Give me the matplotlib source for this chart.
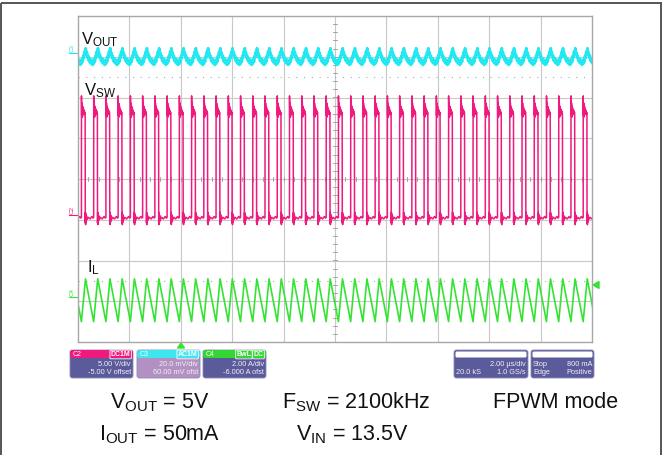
import numpy as np
import matplotlib
matplotlib.use("Agg")
import matplotlib.pyplot as plt
from matplotlib.patches import FancyBboxPatch, Rectangle, Polygon

plt.rcParams['font.family'] = ['Liberation Sans', 'DejaVu Sans']
plt.rcParams['mathtext.fontset'] = 'custom'
plt.rcParams['mathtext.rm'] = 'Liberation Sans'
plt.rcParams['mathtext.it'] = 'Liberation Sans'

# scope settings
n_periods = 42              # 2100 kHz over 20 us
fsw_mhz = 2.1
us_per_div = 2.0
first_edge = 0.28           # first rising edge, in periods from left

# one switching period (phase 0..1)
vsw_phase = [0.00, 0.004, 0.02, 0.05, 0.08, 0.11, 0.14, 0.17, 0.20, 0.23, 0.26, 0.29,
             0.305, 0.315, 0.33, 0.345, 0.36, 0.38, 0.41, 0.45, 0.55, 0.70, 0.85, 0.95]
vsw_volts = [0.3, 15.2, 12.8, 14.3, 12.6, 13.9, 12.9, 13.6, 13.0, 13.4, 12.9, 13.2,
             12.8, -0.4, 0.9, -0.6, 0.7, -0.3, 0.5, 0.0, 0.3, 0.1, 0.4, 0.2]

vout_phase = [0.00, 0.05, 0.10, 0.15, 0.20, 0.25, 0.30, 0.35, 0.40, 0.45,
              0.50, 0.55, 0.60, 0.65, 0.70, 0.75, 0.80, 0.85, 0.90, 0.95]
vout_mv = [-3.5, -1.0, -2.5, 0.5, -0.5, 2.5, 1.0, 4.2, 1.8, 2.0, -0.5, 0.5,
           -2.0, -0.8, -2.8, -1.2, -3.4, -1.8, -4.0, -2.4]

il_phase = [0.00, 0.33]
il_amps = [-1.0, 1.1]

# channel scales (per div) and offsets
vsw_scale, vsw_offset = 5.0, -5.0
vout_scale, vout_offset = 20.0, 60.0
il_scale, il_offset = 2.0, -6.0
trig_level = 0.8


def tile(phase, vals):
    t, y = [], []
    for k in range(-1, n_periods + 1):
        for p, v in zip(phase, vals):
            t.append((k + p + first_edge) / fsw_mhz / us_per_div)
            y.append(v)
    return np.array(t), np.array(y)


fig = plt.figure(figsize=(6.63, 4.55), dpi=100)

# overlay in pixel coordinates
ov = fig.add_axes([0, 0, 1, 1])
ov.set_xlim(0, 663)
ov.set_ylim(455, 0)
ov.axis('off')
ov.add_patch(Rectangle((1, 3), 660, 460, fill=False, ec='#555555', lw=1.4))

# scope screen
ax = fig.add_axes([78 / 663, 1 - 342 / 455, 514 / 663, 326 / 455])
ax.set_xlim(0, 10)
ax.set_ylim(-4, 4)
ax.set_xticks([])
ax.set_yticks([])
for s in ax.spines.values():
    s.set_color('#a8a8a8')
    s.set_linewidth(1.0)
for x in range(1, 10):
    ax.axvline(x, color='#c8c8c8', lw=0.8, zorder=0)
for y in range(-3, 4):
    ax.axhline(y, color='#c8c8c8', lw=0.8, zorder=0)
for v in np.arange(0.2, 10, 0.2):
    ax.plot([v, v], [-0.06, 0.06], color='#999999', lw=0.6, zorder=0)
for v in np.arange(-3.8, 4, 0.2):
    ax.plot([4.96, 5.04], [v, v], color='#999999', lw=0.6, zorder=0)
for y in (2.5, -2.5):
    ax.axhline(y, color='#aaaaaa', lw=0.8, ls=(0, (1, 6)), zorder=0)

t, y = tile(vsw_phase, vsw_volts)
ax.plot(t, (y + vsw_offset) / vsw_scale, color='#f0197d', lw=1.1)
t, y = tile(vout_phase, vout_mv)
ax.plot(t, (y + vout_offset) / vout_scale, color='#22e8f2', lw=2.0)
t, y = tile(il_phase, il_amps)
ax.plot(t, (y + il_offset) / il_scale, color='#33e433', lw=1.2)

ax.text(0.06, 3.3, r'V$_{\mathrm{OUT}}$', fontsize=12, color='#111111')
ax.text(0.12, 2.05, r'V$_{\mathrm{SW}}$', fontsize=12, color='#111111')
ax.text(0.18, -2.3, r'I$_{\mathrm{L}}$', fontsize=12, color='#111111')

# channel markers on the left edge
for label, col, yp in [('C3', '#22e8f2', 53), ('C2', '#f0197d', 215), ('C4', '#33e433', 297)]:
    ov.plot([69, 78], [yp, yp], color=col, lw=0.8)
    ov.text(72, yp - 1, label, color=col, fontsize=4.5, rotation=90, ha='center', va='bottom')

# trigger markers
ytrig = 179 - ((trig_level + il_offset) / il_scale) * 40.75
ov.add_patch(Polygon([[593, ytrig], [599, ytrig - 3.5], [599, ytrig + 3.5]], color='#33e433'))
ov.add_patch(Polygon([[181, 343], [177.5, 348], [184.5, 348]], color='#33e433'))

# channel info boxes
body = '#5b5a9a'
chan_boxes = [
    ('C2', 70, '#f0197d', body, ['DC1M'], '5.00 V/div', '-5.00 V offset'),
    ('C3', 137, '#3ee6f0', '#b290c2', ['AC1M'], '20.0 mV/div', '60.00 mV ofst'),
    ('C4', 203, '#33d633', body, ['BwL', 'DC'], '2.00 A/div', '-6.000 A ofst'),
]
for name, x0, head, fill, tags, row1, row2 in chan_boxes:
    w = 63
    ov.add_patch(FancyBboxPatch((x0, 350), w, 28, boxstyle='round,pad=0,rounding_size=2.5',
                                fc=fill, ec='#8a88b8', lw=0.6))
    ov.add_patch(FancyBboxPatch((x0, 350), w, 8, boxstyle='round,pad=0,rounding_size=2.5',
                                fc=head, ec='none'))
    ov.text(x0 + 2.5, 354.5, name, color='white', fontsize=5, va='center')
    xr = x0 + w - 2.5
    for tag in reversed(tags):
        ov.text(xr, 354.5, tag, color='white', fontsize=5, va='center', ha='right',
                fontweight='bold',
                bbox=dict(boxstyle='round,pad=0.12', fc='none', ec='white', lw=0.6))
        xr -= 6.5 * len(tag) / 1.6 + 4
    ov.text(x0 + w - 2, 364.5, row1, color='#f0f0f8', fontsize=5.3, va='center', ha='right')
    ov.text(x0 + w - 2, 373, row2, color='#f0f0f8', fontsize=5.3, va='center', ha='right')

time_boxes = [
    (454, 74, [('', '2.00 \u00b5s/div'), ('20.0 kS', '1.0 GS/s')]),
    (531, 63, [('Stop', '800 mA'), ('Edge', 'Positive')]),
]
for x0, w, rows in time_boxes:
    ov.add_patch(FancyBboxPatch((x0, 350), w, 28, boxstyle='round,pad=0,rounding_size=2.5',
                                fc=body, ec='#8a88b8', lw=0.6))
    ov.add_patch(FancyBboxPatch((x0 + 1.5, 351.5), w - 3, 6, boxstyle='round,pad=0,rounding_size=1.5',
                                fc='white', ec='none'))
    for (left, right), yy in zip(rows, (364.5, 373)):
        ov.text(x0 + 2, yy, left, color='#f0f0f8', fontsize=5.3, va='center', ha='left')
        ov.text(x0 + w - 2, yy, right, color='#f0f0f8', fontsize=5.3, va='center', ha='right')

# operating conditions
big = dict(fontsize=15.5, color='#111111', ha='center', va='baseline')
ov.text(160, 408, r'V$_{\mathrm{OUT}}$ = 5V', **big)
ov.text(160, 440, r'I$_{\mathrm{OUT}}$ = 50mA', **big)
ov.text(356, 408, r'F$_{\mathrm{SW}}$ = 2100kHz', **big)
ov.text(352, 440, r'V$_{\mathrm{IN}}$ = 13.5V', **big)
ov.text(556, 408, 'FPWM mode', **big)

fig.savefig('out.png', dpi=100)
